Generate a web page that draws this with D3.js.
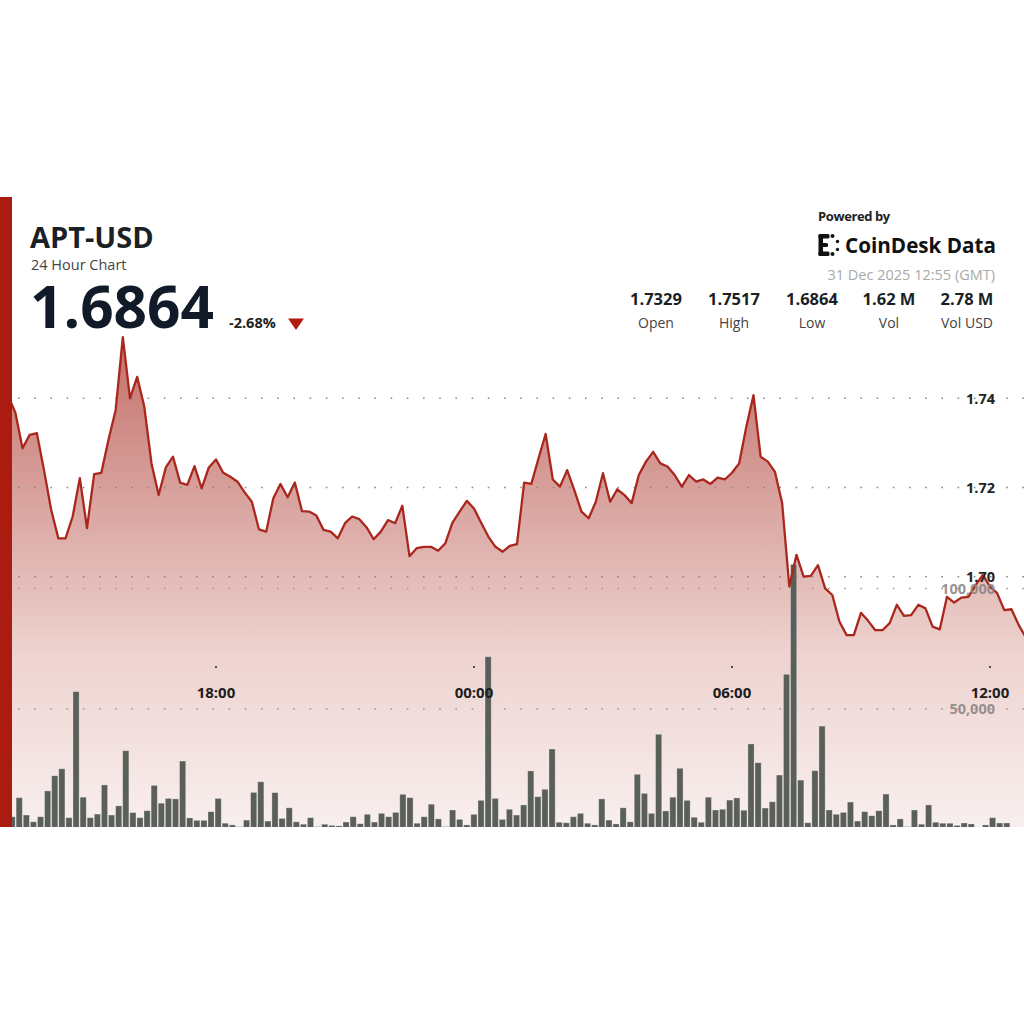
<!DOCTYPE html>
<html>
<head>
<meta charset="utf-8">
<script src="https://cdn.jsdelivr.net/npm/d3@7/dist/d3.min.js"></script>
<style>
  html, body { margin: 0; padding: 0; background: #fff; }
  svg { display: block; font-family: "Open Sans", "Noto Sans", sans-serif; }
</style>
</head>
<body>
<div id="chart"></div>
<script>
// 10-minute points, 30 Dec 13:00 UTC -> 31 Dec 12:50 UTC
const startTime = "2025-12-30T13:00:00Z";

const prices = [
  1.7420, 1.7405, 1.7368, 1.7288, 1.7318, 1.7322, 1.7239, 1.7150, 1.7086, 1.7086,
  1.7135, 1.7221, 1.7109, 1.7230, 1.7233, 1.7307, 1.7374, 1.7537, 1.7400, 1.7448,
  1.7381, 1.7254, 1.7183, 1.7245, 1.7269, 1.7211, 1.7206, 1.7248, 1.7198, 1.7245,
  1.7263, 1.7233, 1.7224, 1.7213, 1.7189, 1.7168, 1.7106, 1.7101, 1.7176, 1.7208,
  1.7178, 1.7211, 1.7147, 1.7146, 1.7137, 1.7105, 1.7101, 1.7086, 1.7120, 1.7135,
  1.7129, 1.7111, 1.7084, 1.7101, 1.7127, 1.7120, 1.7159, 1.7046, 1.7064, 1.7067,
  1.7067, 1.7058, 1.7075, 1.7121, 1.7146, 1.7170, 1.7153, 1.7121, 1.7090, 1.7067,
  1.7056, 1.7069, 1.7073, 1.7211, 1.7208, 1.7265, 1.7320, 1.7218, 1.7202, 1.7239,
  1.7194, 1.7146, 1.7131, 1.7168, 1.7232, 1.7168, 1.7196, 1.7183, 1.7165, 1.7228,
  1.7258, 1.7280, 1.7254, 1.7247, 1.7228, 1.7202, 1.7228, 1.7213, 1.7218, 1.7208,
  1.7222, 1.7218, 1.7233, 1.7254, 1.7336, 1.7407, 1.7269, 1.7258, 1.7235, 1.7165,
  1.6978, 1.7049, 1.7000, 1.7002, 1.7026, 1.6974, 1.6959, 1.6899, 1.6869, 1.6869,
  1.6919, 1.6901, 1.6880, 1.6880, 1.6896, 1.6937, 1.6912, 1.6914, 1.6937, 1.6929,
  1.6888, 1.6882, 1.6955, 1.6942, 1.6953, 1.6955, 1.6981, 1.7004, 1.6978, 1.6963,
  1.6925, 1.6927, 1.6892, 1.6864
];

const volumes = [
  8000, 5300, 13200, 6000, 3200, 5300, 16000, 22300, 25200, 4900,
  57200, 13400, 4900, 6400, 18500, 6000, 9800, 32700, 7000, 4900,
  7800, 18300, 10900, 12900, 12700, 28400, 4800, 3800, 3800, 7400,
  12900, 2600, 1900, 1200, 3900, 15400, 19800, 3500, 15300, 4600,
  9000, 3200, 2200, 4900, 1200, 2200, 1700, 1500, 3100, 5300,
  2400, 6300, 3100, 6700, 5300, 7100, 14600, 13200, 2600, 5300,
  10500, 4400, 1200, 8100, 4200, 1900, 6300, 12100, 71700, 12900,
  4200, 8400, 6000, 10200, 24300, 13600, 16700, 33400, 3000, 2800,
  5300, 6700, 2600, 1900, 12700, 3900, 2300, 9000, 3200, 22900,
  15000, 6700, 39500, 7700, 13400, 25400, 12100, 5100, 3000, 13400,
  8100, 8400, 12200, 13100, 8000, 35500, 27700, 8900, 11500, 22600,
  64400, 110000, 20500, 2800, 24400, 42900, 8100, 6300, 7100, 11400,
  3500, 7400, 5700, 7800, 14700, 1900, 4400, 1200, 8100, 2200,
  10200, 3000, 2600, 2600, 1700, 2700, 2300, 900, 1900, 4900,
  2700, 2700, 1000, 500
];

const timeTicks = ["2025-12-30T18:00:00Z", "2025-12-31T00:00:00Z", "2025-12-31T06:00:00Z", "2025-12-31T12:00:00Z"];
const priceTicks = [1.70, 1.72, 1.74];
const volumeTicks = [50000, 100000];

const statValues = ["1.7329", "1.7517", "1.6864", "1.62 M", "2.78 M"];
const statLabels = ["Open", "High", "Low", "Vol", "Vol USD"];

const width = 1024, height = 1024;
const chartTop = 197, chartBottom = 827;

const t0 = new Date(startTime);
const data = prices.map((p, i) => ({
  time: new Date(t0.getTime() + i * 10 * 60 * 1000),
  price: p,
  vol: volumes[i]
}));

const svg = d3.select("#chart").append("svg")
  .attr("width", width)
  .attr("height", height)
  .attr("viewBox", [0, 0, width, height]);

const defs = svg.append("defs");
const grad = defs.append("linearGradient")
  .attr("id", "areaGrad")
  .attr("gradientUnits", "userSpaceOnUse")
  .attr("x1", 0).attr("x2", 0)
  .attr("y1", 337).attr("y2", chartBottom);
grad.append("stop").attr("offset", "0%").attr("stop-color", "#c46f68");
grad.append("stop").attr("offset", "35%").attr("stop-color", "#daa6a2");
grad.append("stop").attr("offset", "65%").attr("stop-color", "#eed3d0");
grad.append("stop").attr("offset", "100%").attr("stop-color", "#f8efee");

defs.append("clipPath").attr("id", "plotClip")
  .append("rect")
  .attr("x", 0).attr("y", chartTop)
  .attr("width", width).attr("height", chartBottom - chartTop);

// scales
const x = d3.scaleUtc()
  .domain(d3.extent(data, d => d.time))
  .range([1, 1025.8]);

const y = d3.scaleLinear()
  .domain([1.70, 1.74])
  .range([576.7, 398.3]);

const yVol = d3.scaleLinear()
  .domain([0, 100000])
  .range([829.5, 588.5]);

const xBand = d3.scaleBand()
  .domain(d3.range(data.length))
  .range([1, 1025])
  .padding(0.13);

const plot = svg.append("g").attr("clip-path", "url(#plotClip)");

// area under the price line
const area = d3.area()
  .x(d => x(d.time))
  .y0(chartBottom)
  .y1(d => y(d.price));

plot.append("path")
  .datum(data)
  .attr("fill", "url(#areaGrad)")
  .attr("d", area);

// dotted grid lines
const gridDots = "1.6,14.6";
plot.append("g")
  .selectAll("line.pgrid")
  .data(priceTicks)
  .join("line")
    .attr("x1", 12).attr("x2", width)
    .attr("y1", d => y(d)).attr("y2", d => y(d))
    .attr("stroke", "#8a8a8a")
    .attr("stroke-width", 1.5)
    .attr("stroke-dasharray", gridDots)
    .attr("stroke-dashoffset", -6);

plot.append("g")
  .selectAll("line.vgrid")
  .data(volumeTicks)
  .join("line")
    .attr("x1", 12).attr("x2", width)
    .attr("y1", d => yVol(d)).attr("y2", d => yVol(d))
    .attr("stroke", "#a09796")
    .attr("stroke-width", 1.5)
    .attr("stroke-dasharray", gridDots)
    .attr("stroke-dashoffset", -6);

// volume bars
plot.append("g")
  .selectAll("rect")
  .data(data)
  .join("rect")
    .attr("x", (d, i) => xBand(i))
    .attr("width", xBand.bandwidth())
    .attr("y", d => yVol(d.vol))
    .attr("height", d => yVol(0) - yVol(d.vol))
    .attr("fill", "#5b5f5a")
    .attr("stroke", "rgba(255,255,255,0.35)")
    .attr("stroke-width", 0.8);

// price line
const line = d3.line()
  .x(d => x(d.time))
  .y(d => y(d.price));

plot.append("path")
  .datum(data)
  .attr("fill", "none")
  .attr("stroke", "#a9271d")
  .attr("stroke-width", 2.3)
  .attr("stroke-linejoin", "round")
  .attr("d", line);

// price axis labels
svg.append("g")
  .attr("text-anchor", "end")
  .attr("font-weight", "700")
  .attr("font-size", "14.5px")
  .attr("fill", "#222")
  .selectAll("text")
  .data(priceTicks)
  .join("text")
    .attr("x", 995)
    .attr("y", d => y(d))
    .attr("dy", "0.36em")
    .text(d => d3.format(".2f")(d));

// volume axis labels
svg.append("g")
  .attr("text-anchor", "end")
  .attr("font-weight", "700")
  .attr("font-size", "14.5px")
  .attr("fill", "#8a8584")
  .attr("fill-opacity", 0.9)
  .selectAll("text")
  .data(volumeTicks)
  .join("text")
    .attr("x", 995)
    .attr("y", d => yVol(d))
    .attr("dy", "0.36em")
    .text(d => d3.format(",")(d));

// time axis
const tickDates = timeTicks.map(s => new Date(s));
const timeFmt = d3.utcFormat("%H:%M");
const xAxisG = svg.append("g");
xAxisG.selectAll("circle")
  .data(tickDates)
  .join("circle")
    .attr("cx", d => x(d))
    .attr("cy", 667)
    .attr("r", 1.1)
    .attr("fill", "#333");
xAxisG.selectAll("text")
  .data(tickDates)
  .join("text")
    .attr("x", d => x(d))
    .attr("y", 698)
    .attr("text-anchor", "middle")
    .attr("font-weight", "700")
    .attr("font-size", "15px")
    .attr("fill", "#1d1d1d")
    .text(d => timeFmt(d));

// left red accent bar
svg.append("rect")
  .attr("x", 0).attr("y", chartTop)
  .attr("width", 12).attr("height", chartBottom - chartTop)
  .attr("fill", "#ab1b10");

// header, left side
svg.append("text")
  .attr("x", 30).attr("y", 248)
  .attr("font-weight", "700")
  .attr("font-size", "29px")
  .attr("fill", "#1b1f26")
  .text("APT-USD");

svg.append("text")
  .attr("x", 31).attr("y", 270)
  .attr("font-size", "14.5px")
  .attr("fill", "#444")
  .text("24 Hour Chart");

svg.append("text")
  .attr("x", 30).attr("y", 328)
  .attr("font-weight", "700")
  .attr("font-size", "58.5px")
  .attr("fill", "#111a28")
  .text(d3.format(".4f")(prices[prices.length - 1]));

svg.append("text")
  .attr("x", 229).attr("y", 328)
  .attr("font-weight", "700")
  .attr("font-size", "14.5px")
  .attr("fill", "#222")
  .text("-2.68%");

svg.append("path")
  .attr("d", d3.line()([[288, 318.5], [304, 318.5], [296, 330]]) + "Z")
  .attr("fill", "#b01c12");

// header, right side
svg.append("text")
  .attr("x", 818).attr("y", 221)
  .attr("font-weight", "700")
  .attr("font-size", "13px")
  .attr("letter-spacing", "-0.4px")
  .attr("fill", "#222")
  .text("Powered by");

// CoinDesk logo mark (dotted bracket + colon)
const logo = svg.append("g").attr("fill", "#111");
logo.append("rect").attr("x", 818.5).attr("y", 234).attr("width", 4.5).attr("height", 22).attr("rx", 1.5);
logo.append("rect").attr("x", 818.5).attr("y", 234).attr("width", 11).attr("height", 4.5).attr("rx", 1.5);
logo.append("rect").attr("x", 818.5).attr("y", 251.5).attr("width", 11).attr("height", 4.5).attr("rx", 1.5);
logo.append("rect").attr("x", 822).attr("y", 243).attr("width", 6).attr("height", 4).attr("rx", 1.5);
logo.append("circle").attr("cx", 832.5).attr("cy", 236).attr("r", 2);
logo.append("circle").attr("cx", 832.5).attr("cy", 254).attr("r", 2);
logo.append("circle").attr("cx", 837.5).attr("cy", 241.5).attr("r", 1.7);
logo.append("circle").attr("cx", 837.5).attr("cy", 249.5).attr("r", 1.7);

svg.append("text")
  .attr("x", 845).attr("y", 253)
  .attr("font-weight", "700")
  .attr("font-size", "22px")
  .attr("fill", "#111")
  .attr("textLength", 151)
  .attr("lengthAdjust", "spacingAndGlyphs")
  .text("CoinDesk Data");

svg.append("text")
  .attr("x", 995).attr("y", 280)
  .attr("text-anchor", "end")
  .attr("font-size", "14.5px")
  .attr("fill", "#a9a9a9")
  .text("31 Dec 2025 12:55 (GMT)");

const statX = [656, 734, 812, 889, 967];
const stats = svg.append("g").attr("text-anchor", "middle");
stats.selectAll("text.val")
  .data(statValues)
  .join("text")
    .attr("x", (d, i) => statX[i])
    .attr("y", 305)
    .attr("font-weight", "700")
    .attr("font-size", "16.5px")
    .attr("fill", "#1b1f26")
    .text(d => d);
stats.selectAll("text.lab")
  .data(statLabels)
  .join("text")
    .attr("x", (d, i) => statX[i])
    .attr("y", 328)
    .attr("font-size", "14px")
    .attr("fill", "#444")
    .text(d => d);
</script>
</body>
</html>
